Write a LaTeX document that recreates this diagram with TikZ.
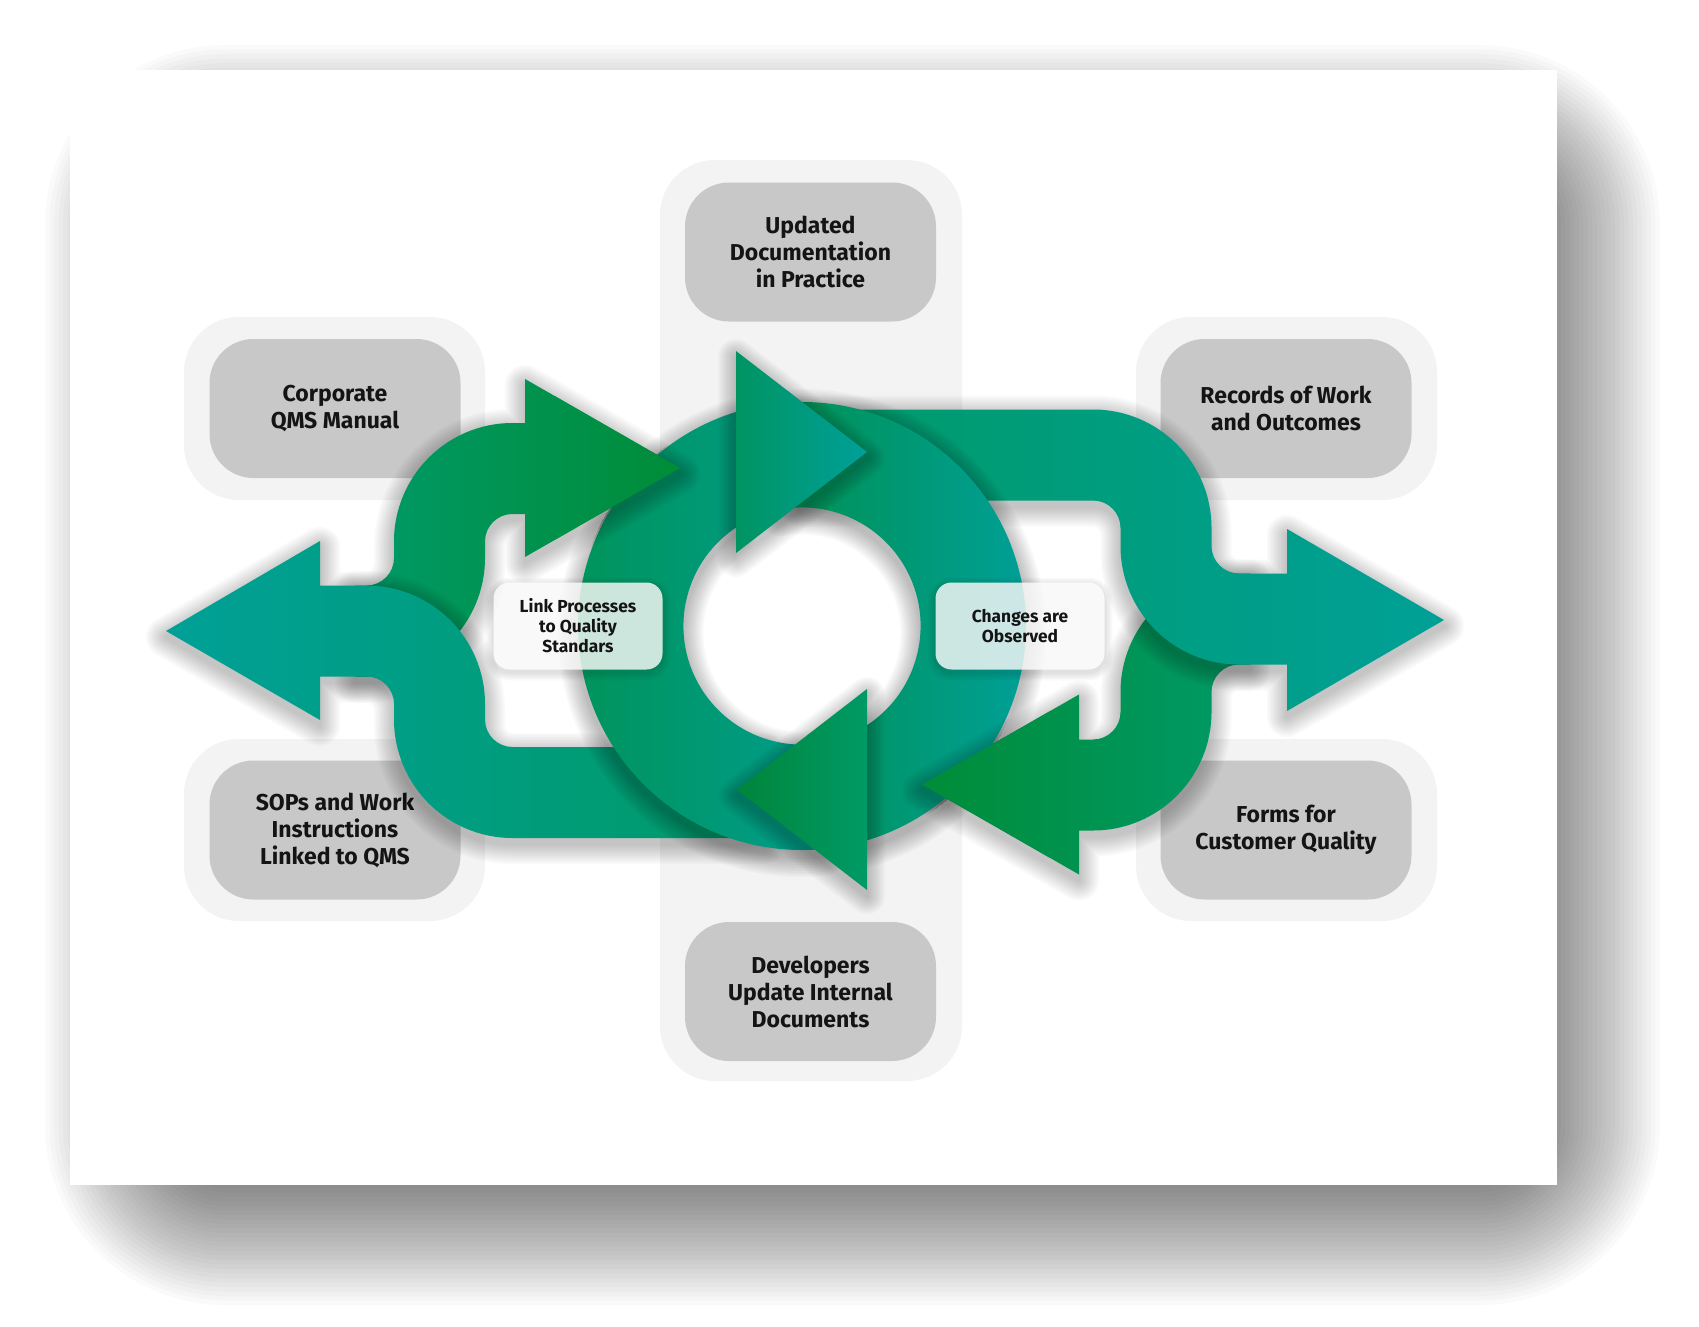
\documentclass[tikz,border=0pt]{standalone}
\usepackage{fontspec}
\setmainfont{Fira Sans}
\definecolor{gDark}{HTML}{008C38}
\definecolor{gMid}{HTML}{009A68}
\definecolor{gTeal}{HTML}{00A097}
\definecolor{gRing}{HTML}{00935A}
\definecolor{gRingTeal}{HTML}{009E8C}
\definecolor{gHeadL}{HTML}{009462}
\definecolor{gHeadR}{HTML}{00A099}
\definecolor{gBotL}{HTML}{00853A}
\definecolor{gBotR}{HTML}{009A66}
\definecolor{boxGray}{HTML}{C8C8C8}
\definecolor{pillGray}{HTML}{F3F3F3}
\definecolor{txt}{HTML}{141414}
\tikzset{
  pill/.style={fill=pillGray, rounded corners=55pt},
  graybox/.style={fill=boxGray, rounded corners=44pt, minimum width=251pt, minimum height=139pt, align=center, text=txt, font=\fontsize{23}{27}\selectfont\bfseries, inner sep=0pt},
  tagbox/.style={fill=white, fill opacity=0.8, text opacity=1, rounded corners=16pt, minimum width=169pt, minimum height=87pt, align=center, text=txt, font=\fontsize{17.4}{20}\selectfont\bfseries, inner sep=0pt},
  greenUL/.style={left color=gMid, middle color=gDark, right color=gDark},
  tealL/.style={left color=gTeal, middle color=gMid, right color=gMid},
  greenLR/.style={left color=gDark, middle color=gDark, right color=gMid},
  tealR/.style={left color=gMid, middle color=gMid, right color=gTeal},
}
% soft shadow: #1 path, #2 dx, #3 dy, #4 spread, #5 steps, #6 opacity per step
\newcommand\softshadow[6]{%
  \begin{scope}[shift={(#2,#3)}]
    \foreach \k in {1,...,#5}{%
      \pgfmathsetmacro\shw{2*#4*\k/#5}%
      \begin{scope}[transparency group, opacity=#6]
        \path[fill=black, draw=black, line width=\shw pt, line join=round] #1;
      \end{scope}
    }
  \end{scope}}
\def\pathGL{(355,585.5) -- (366.5,585.5) arc[start angle=90, end angle=0, radius=27.5] -- (394,541.5) arc[start angle=180, end angle=270, radius=118.5] -- (525,423) -- (525,379) -- (680,468) -- (525,557) -- (525,514) -- (512.5,514) arc[start angle=270, end angle=180, radius=27.5] -- (485,558) arc[start angle=0, end angle=90, radius=118.5] -- (355,676.5) -- cycle}
\def\pathTL{(166,631) -- (320,541) -- (320,585.5) -- (366.5,585.5) arc[start angle=270,end angle=360,radius=118.5] -- (485,719.5) arc[start angle=180,end angle=90,radius=27.5] -- (765,747) -- (765,838) -- (512.5,838) arc[start angle=90,end angle=180,radius=118.5] -- (394,704) arc[start angle=0,end angle=-90,radius=27.5] -- (320,676.5) -- (320,720) -- cycle}
\def\pathTR{(800,409.5) -- (1093,409.5) arc[start angle=270,end angle=360,radius=118.5] -- (1211.5,546) arc[start angle=180,end angle=90,radius=27.5] -- (1287,573.5) -- (1287,529) -- (1444,620) -- (1287,711) -- (1287,664.5) -- (1239,664.5) arc[start angle=90,end angle=180,radius=118.5] -- (1120.5,528) arc[start angle=0,end angle=-90,radius=27.5] -- (800,500.5) -- cycle}
\def\pathGR{(1250,664.5) -- (1239,664.5) arc[start angle=270,end angle=180,radius=27.5] -- (1211.5,712) arc[start angle=0,end angle=90,radius=118.5] -- (1079,830.5) -- (1079,874.5) -- (922,784.5) -- (1079,694.5) -- (1079,739.5) -- (1093,739.5) arc[start angle=90,end angle=0,radius=27.5] -- (1120.5,692) arc[start angle=180,end angle=270,radius=118.5] -- (1250,573.5) -- cycle}
\def\pathRA{([shift={(84.1:224)}]802,626) arc[start angle=84.1,end angle=252.86,radius=224] -- ([shift={(236.19:118.6)}]802,626) arc[start angle=236.19,end angle=78.82,radius=118.6] -- cycle}
\def\pathRB{([shift={(264.36:224)}]802,626) arc[start angle=264.36,end angle=433.13,radius=224] -- ([shift={(416.76:118.6)}]802,626) arc[start angle=416.76,end angle=259.31,radius=118.6] -- cycle}
\def\pathHT{(736,351) -- (867,452) -- (736,553) -- cycle}
\def\pathHB{(867,689) -- (737,789.5) -- (867,890) -- cycle}
\def\pathCard{(225,225) rectangle (1480,1125)}
\def\pathLink{[rounded corners=16pt] (493.5,582.5) rectangle (662.5,669.5)}
\def\pathChg{[rounded corners=16pt] (935.5,582.5) rectangle (1104.5,669.5)}
\begin{document}
\begin{tikzpicture}[x=1pt,y=-1pt]
\useasboundingbox (0,0) rectangle (1699,1327);
\fill[white] (0,0) rectangle (1699,1327);
% card with shadow
\softshadow{\pathCard}{0}{0}{180}{40}{0.0198}
\fill[white] (70,70) rectangle (1557,1185);
% background pills
\fill[pill] (184,317) rectangle (485,500);
\fill[pill] (1136,317) rectangle (1437,500);
\fill[pill] (184,739) rectangle (485,921);
\fill[pill] (1136,739) rectangle (1437,921);
\fill[pill] (660,160) rectangle (962,1081);
% gray boxes
\node[graybox] (corp) at (335,408.5) {Corporate\\QMS Manual};
\node[graybox] (rec) at (1286,408.5) {Records of Work\\and Outcomes};
\node[graybox] (sops) at (335,830) {SOPs and Work\\Instructions\\Linked to QMS};
\node[graybox] (forms) at (1286,830) {Forms for\\Customer Quality};
\node[graybox] (upd) at (810.5,252) {Updated\\Documentation\\in Practice};
\node[graybox] (dev) at (810.5,991.5) {Developers\\Update Internal\\Documents};
% white centre of the ring
\fill[white] (802,626) circle[radius=120];
% S arrows
\softshadow{\pathGL}{0}{6}{20}{10}{0.024}
\path[greenUL] \pathGL;
\softshadow{\pathTL}{0}{6}{20}{10}{0.024}
\path[tealL] \pathTL;
\softshadow{\pathGR}{0}{6}{20}{10}{0.024}
\path[greenLR] \pathGR;
\softshadow{\pathTR}{0}{6}{20}{10}{0.024}
\path[tealR] \pathTR;
% ring
\softshadow{\pathRA}{0}{7}{20}{10}{0.026}
\path[left color=gRing, right color=gRingTeal] \pathRA;
\softshadow{\pathRB}{0}{7}{20}{10}{0.026}
\path[left color=gHeadL!60!gDark, right color=gHeadR] \pathRB;
\softshadow{\pathHT}{0}{6}{18}{10}{0.024}
\path[left color=gHeadL, right color=gHeadR] \pathHT;
\softshadow{\pathHB}{0}{6}{18}{10}{0.024}
\path[left color=gBotL, right color=gBotR] \pathHB;
% green arrowheads above ring
\begin{scope}
  \clip (802,626) circle[radius=226];
  \softshadow{\pathGL}{0}{6}{20}{10}{0.024}
  \softshadow{\pathGR}{0}{6}{20}{10}{0.024}
\end{scope}
\begin{scope}
  \clip (555,300) rectangle (700,620);
  \path[greenUL] \pathGL;
\end{scope}
\begin{scope}
  \clip (900,680) rectangle (1050,900);
  \path[greenLR] \pathGR;
\end{scope}
% labels
\softshadow{\pathLink}{0}{3}{8}{6}{0.018}
\softshadow{\pathChg}{0}{3}{8}{6}{0.018}
\node[tagbox] (link) at (578,626) {Link Processes\\to Quality\\Standars};
\node[tagbox] (chg) at (1020,626) {Changes are\\Observed};
\end{tikzpicture}
\end{document}
